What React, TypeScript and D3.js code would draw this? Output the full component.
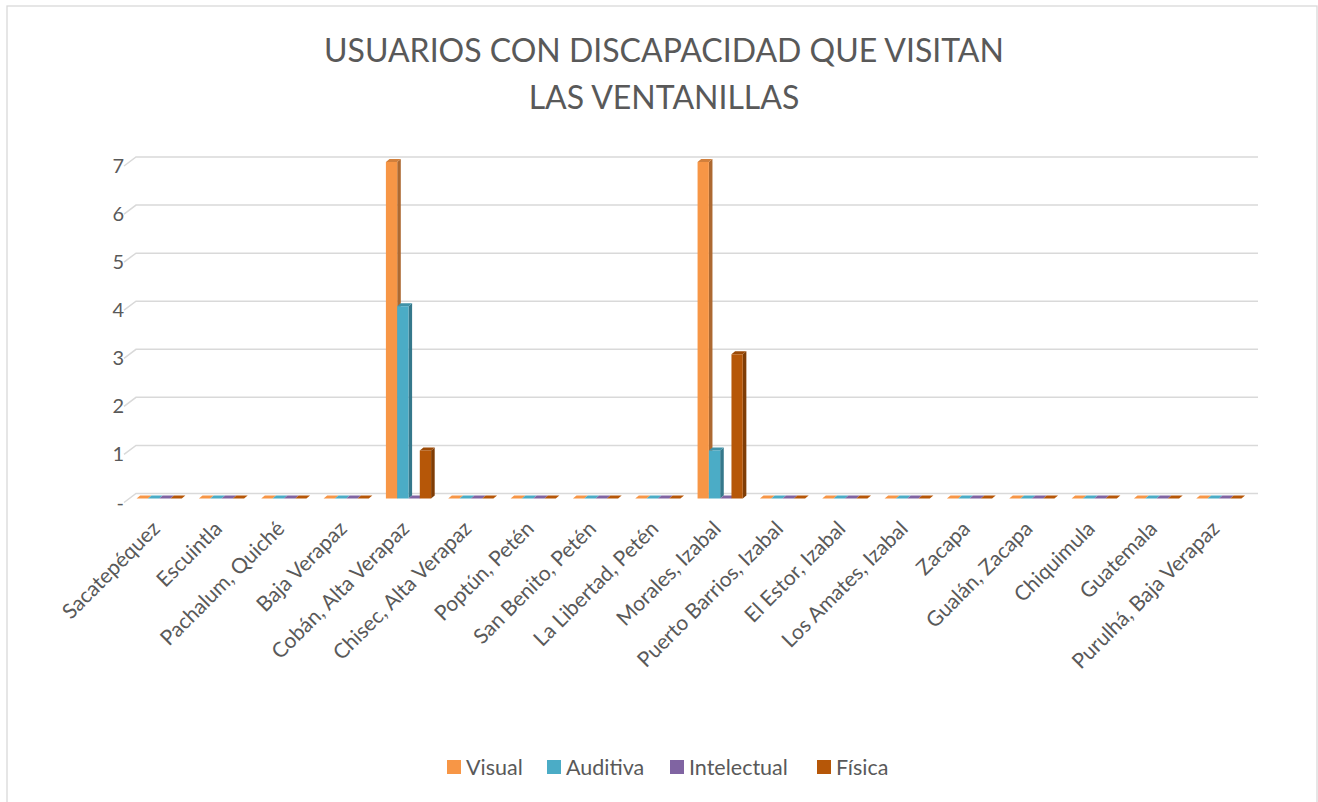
import React from "react";
import * as d3 from "d3";

const categories = [
  "Sacatepéquez", "Escuintla", "Pachalum, Quiché", "Baja Verapaz",
  "Cobán, Alta Verapaz", "Chisec, Alta Verapaz", "Poptún, Petén", "San Benito, Petén",
  "La Libertad, Petén", "Morales, Izabal", "Puerto Barrios, Izabal", "El Estor, Izabal",
  "Los Amates, Izabal", "Zacapa", "Gualán, Zacapa", "Chiquimula", "Guatemala", "Purulhá, Baja Verapaz",
];
const seriesNames = ["Visual", "Auditiva", "Intelectual", "Física"];
const visual = [0, 0, 0, 0, 7, 0, 0, 0, 0, 7, 0, 0, 0, 0, 0, 0, 0, 0];
const auditiva = [0, 0, 0, 0, 4, 0, 0, 0, 0, 1, 0, 0, 0, 0, 0, 0, 0, 0];
const intelectual = [0, 0, 0, 0, 0, 0, 0, 0, 0, 0, 0, 0, 0, 0, 0, 0, 0, 0];
const fisica = [0, 0, 0, 0, 1, 0, 0, 0, 0, 3, 0, 0, 0, 0, 0, 0, 0, 0];
const seriesValues = [visual, auditiva, intelectual, fisica];
const colors = ["#F79646", "#4BACC6", "#8064A2", "#B65708"];
const yTicks = [0, 1, 2, 3, 4, 5, 6, 7];
const titleLines = ["USUARIOS CON DISCAPACIDAD QUE VISITAN", "LAS VENTANILLAS"];

const W = 1318;
const H = 802;
const FONT = "Lato, 'Open Sans', sans-serif";
const TEXT = "#595959";

export default function App() {
  const x = d3.scaleBand<string>().domain(categories).range([136, 1258]).paddingInner(0).paddingOuter(0);
  const y = d3.scaleLinear().domain([0, 7]).range([493.5, 157]);
  const inner = d3.scaleBand<string>().domain(seriesNames).range([0, 45.2]);
  const wallDx = -12, wallDy = 9;
  const barDx = -8, barDy = 5;
  const depX = 3.6, depY = -3;
  const shade = (c: string, k: number) => {
    const col = d3.rgb(c);
    return d3.rgb(col.r * k, col.g * k, col.b * k).toString();
  };

  const bars: React.ReactNode[] = [];
  categories.forEach((cat, i) => {
    const cx = (x(cat) as number) + x.bandwidth() / 2 + barDx;
    const gx0 = cx - inner.range()[1] / 2;
    seriesNames.forEach((s, j) => {
      const v = seriesValues[j][i];
      const x0 = gx0 + (inner(s) as number);
      const w = inner.bandwidth();
      const yb = y(0) + barDy;
      const yt = y(v) + barDy;
      const c = colors[j];
      const top = `M${x0},${yt} L${x0 + w},${yt} L${x0 + w + depX},${yt + depY} L${x0 + depX},${yt + depY} Z`;
      const side = `M${x0 + w},${yt} L${x0 + w + depX},${yt + depY} L${x0 + w + depX},${yb + depY} L${x0 + w},${yb} Z`;
      bars.push(
        <g key={`${i}-${j}`}>
          <path d={side} fill={shade(c, 0.7)} />
          <path d={top} fill={v > 0 ? shade(c, 0.85) : c} />
          {v > 0 && <rect x={x0} y={yt} width={w} height={yb - yt} fill={c} />}
        </g>
      );
    });
  });

  return (
    <svg width={W} height={H} style={{ position: "absolute", left: 0, top: 0, background: "#fff" }}>
      <rect x={7} y={6} width={1310} height={810} fill="#fff" stroke="#d9d9d9" strokeWidth={1.3} />
      {titleLines.map((t, k) => (
        <text key={t} x={664} y={61.5 + k * 47} textAnchor="middle" fontFamily={FONT} fontSize={32} fill={TEXT}>
          {t}
        </text>
      ))}
      {yTicks.map((t) => (
        <g key={t}>
          <path
            d={`M${136 + wallDx},${y(t) + wallDy} L136,${y(t)} L1258,${y(t)}`}
            fill="none"
            stroke="#d9d9d9"
            strokeWidth={1.5}
          />
          <text x={124} y={y(t) + wallDy} dy="0.35em" textAnchor="end" fontFamily={FONT} fontSize={20} fill={TEXT}>
            {t === 0 ? "-" : t}
          </text>
        </g>
      ))}
      {bars}
      {categories.map((cat) => {
        const cx = (x(cat) as number) + x.bandwidth() / 2 + barDx + 2;
        return (
          <text
            key={cat}
            transform={`translate(${cx},${530}) rotate(-45)`}
            textAnchor="end"
            fontFamily={FONT}
            fontSize={21}
            fill={TEXT}
          >
            {cat}
          </text>
        );
      })}
      {seriesNames.map((s, j) => {
        const lx = [447, 547, 670, 817][j];
        return (
          <g key={s}>
            <rect x={lx} y={760} width={14} height={14} fill={colors[j]} />
            <text x={lx + 19} y={767} dy="0.35em" fontFamily={FONT} fontSize={21.5} fill={TEXT}>
              {s}
            </text>
          </g>
        );
      })}
    </svg>
  );
}
